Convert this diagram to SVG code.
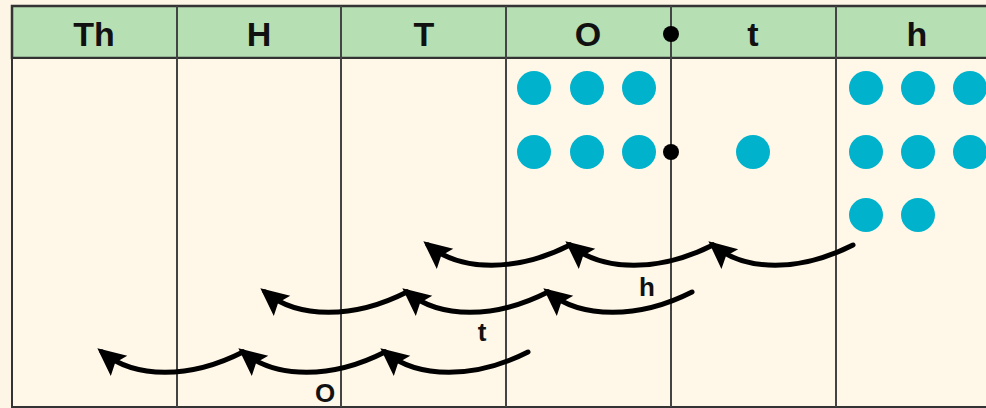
<svg xmlns="http://www.w3.org/2000/svg" width="986" height="408" viewBox="0 0 986 408">
<style>
.hd{font-family:"Liberation Sans",Arial,sans-serif;font-weight:bold;font-size:34px;fill:#111;text-anchor:middle}
.lb{font-family:"Liberation Sans",Arial,sans-serif;font-weight:bold;font-size:26px;fill:#111;text-anchor:middle}
.grid{stroke:#444;stroke-width:2;fill:none}
.dot{fill:#00b2cc}
.arc{fill:none;stroke:#000;stroke-width:5;stroke-linecap:round}
</style>
<defs>
<marker id="ah" markerUnits="userSpaceOnUse" markerWidth="30" markerHeight="28" viewBox="0 0 30 28" refX="22" refY="14" orient="auto">
<path d="M28,14 L0,1 L5,14 L0,27 Z" fill="#000"/>
</marker>
</defs>
<rect x="0" y="0" width="986" height="408" fill="#fdf6e6"/>
<g id="table">
<rect x="12" y="6" width="990" height="52" fill="#b7dfb4" stroke="#333" stroke-width="2.5"/>
<rect x="12" y="58" width="990" height="349" fill="#fff7e7" stroke="#333" stroke-width="2"/>
<line class="grid" x1="177" y1="6" x2="177" y2="407"/>
<line class="grid" x1="341" y1="6" x2="341" y2="407"/>
<line class="grid" x1="506" y1="6" x2="506" y2="407"/>
<line class="grid" x1="671" y1="6" x2="671" y2="407"/>
<line class="grid" x1="836" y1="6" x2="836" y2="407"/>
</g>
<g id="headers">
<text class="hd" x="94" y="46">Th</text>
<text class="hd" x="259" y="46">H</text>
<text class="hd" x="424" y="46">T</text>
<text class="hd" x="588" y="46">O</text>
<text class="hd" x="753" y="46">t</text>
<text class="hd" x="917" y="46">h</text>
</g>
<g id="decimal-points">
<circle cx="671" cy="34" r="8" fill="#000"/>
<circle cx="671" cy="152" r="8" fill="#000"/>
</g>
<g id="ones-dots">
<circle class="dot" cx="534" cy="88" r="17"/>
<circle class="dot" cx="587" cy="88" r="17"/>
<circle class="dot" cx="639" cy="88" r="17"/>
<circle class="dot" cx="534" cy="152" r="17"/>
<circle class="dot" cx="587" cy="152" r="17"/>
<circle class="dot" cx="639" cy="152" r="17"/>
</g>
<g id="tenths-dots">
<circle class="dot" cx="753" cy="152" r="17"/>
</g>
<g id="hundredths-dots">
<circle class="dot" cx="866" cy="88" r="17"/>
<circle class="dot" cx="918" cy="88" r="17"/>
<circle class="dot" cx="970" cy="88" r="17"/>
<circle class="dot" cx="866" cy="152" r="17"/>
<circle class="dot" cx="918" cy="152" r="17"/>
<circle class="dot" cx="970" cy="152" r="17"/>
<circle class="dot" cx="866" cy="215" r="17"/>
<circle class="dot" cx="918" cy="215" r="17"/>
</g>
<g id="connectors">
<path class="arc" marker-end="url(#ah)" d="M853,245 C800,272 745,272 713,245"/>
<path class="arc" marker-end="url(#ah)" d="M713,245 C660,272 603,272 570,245"/>
<path class="arc" marker-end="url(#ah)" d="M570,245 C517,272 461,272 428,245"/>
<path class="arc" marker-end="url(#ah)" d="M692,292 C639,319 581,319 548,292"/>
<path class="arc" marker-end="url(#ah)" d="M548,292 C495,319 440,319 407,292"/>
<path class="arc" marker-end="url(#ah)" d="M407,292 C354,319 298,319 265,292"/>
<path class="arc" marker-end="url(#ah)" d="M528,352 C475,379 418,379 385,352"/>
<path class="arc" marker-end="url(#ah)" d="M385,352 C332,379 276,379 243,352"/>
<path class="arc" marker-end="url(#ah)" d="M243,352 C190,379 135,379 102,352"/>
</g>
<g id="labels">
<text class="lb" x="647" y="296">h</text>
<text class="lb" x="482" y="341">t</text>
<text class="lb" x="325" y="402">O</text>
</g>
</svg>
